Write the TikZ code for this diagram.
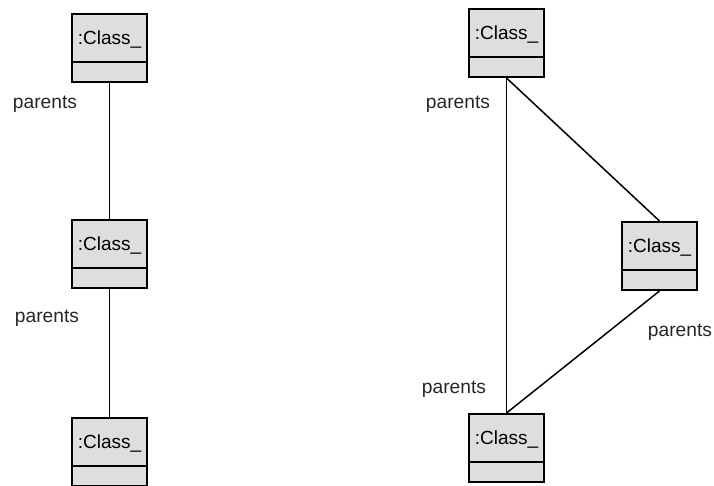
\documentclass[tikz,border=0pt]{standalone}
\usepackage{fontspec}
\setmainfont{Liberation Sans}
\usepackage{xcolor}
\usepackage{tikz}
\definecolor{boxgray}{RGB}{222,222,222}
\tikzset{
	%% name compartment on top, empty compartment of 10pt below
	classbox/.style={rectangle, draw, line width=1pt, fill=boxgray,
		minimum width=37.5pt, inner xsep=2pt, inner ysep=5pt,
		text height=10.4pt, text depth=13.6pt,
		font=\fontsize{9.5}{11}\selectfont, anchor=north,
		path picture={\draw[line width=1pt]
			([yshift=10pt]path picture bounding box.south west) --
			([yshift=10pt]path picture bounding box.south east);}},
	rolename/.style={font=\fontsize{9.6}{11}\selectfont, text=black!85},
	link/.style={line width=0.75pt}
}

\begin{document}
\begin{tikzpicture}[x=0.5pt,y=-0.5pt]
		\useasboundingbox (0,0) rectangle (714,486);

		%% Left: a chain of three objects
		\node[classbox] (l1) at (109.5,13) {:Class\_};
		\node[classbox] (l2) at (109.5,219) {:Class\_};
		\node[classbox] (l3) at (109.5,417) {:Class\_};
		\draw[link] (l1.south) -- (l2.north);
		\draw[link] (l2.south) -- (l3.north);
		\node[rolename] (p1) at (45,104) {parents};
		\node[rolename] (p2) at (47,318) {parents};

		%% Right: the same objects in a triangle
		\node[classbox] (r1) at (506.5,8) {:Class\_};
		\node[classbox] (r2) at (659.5,221) {:Class\_};
		\node[classbox] (r3) at (506.5,413) {:Class\_};
		\draw[link] (r1.south) -- (r3.north);
		\draw[link] (r1.south) -- (r2.north);
		\draw[link] (r2.south) -- (r3.north);
		\node[rolename] (p3) at (458,104) {parents};
		\node[rolename] (p4) at (680,332) {parents};
		\node[rolename] (p5) at (454,389) {parents};
	\end{tikzpicture}
\end{document}
